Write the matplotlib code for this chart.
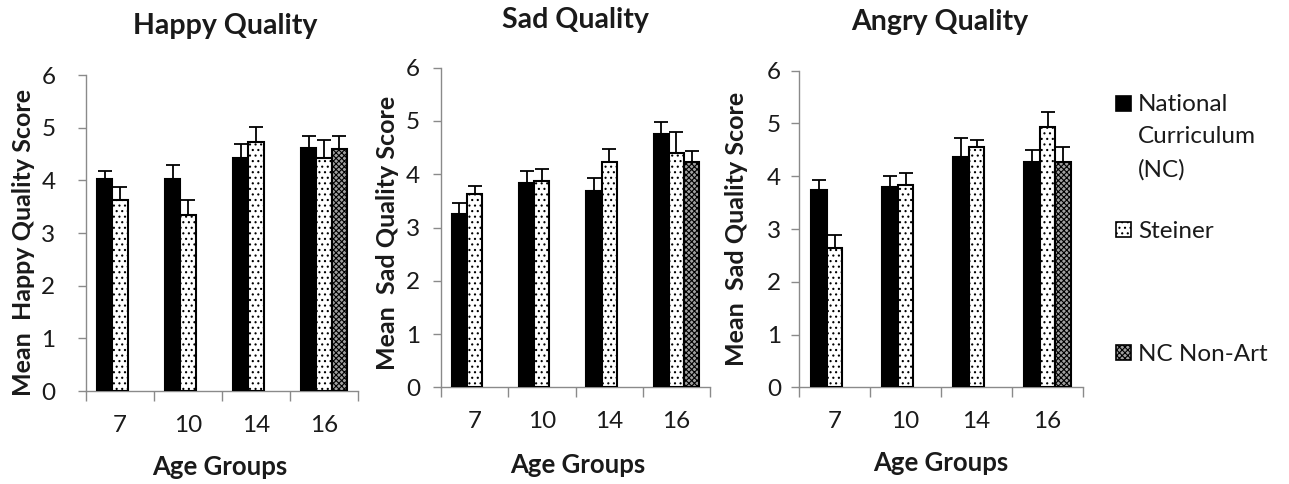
import numpy as np
import matplotlib
matplotlib.use("Agg")
import matplotlib.pyplot as plt
from matplotlib.patches import Rectangle
from matplotlib.legend_handler import HandlerPatch

plt.rcParams['font.family'] = ['Lato', 'DejaVu Sans']
plt.rcParams['hatch.linewidth'] = 0.8

# ---------------- data ----------------
age_groups = ['7', '10', '14', '16']
series_names = ['National\nCurriculum\n(NC)', 'Steiner', 'NC Non-Art']

happy_nc = [4.02, 4.02, 4.43, 4.62]
happy_nc_err = [0.15, 0.28, 0.26, 0.22]
happy_st = [3.63, 3.34, 4.72, 4.42]
happy_st_err = [0.24, 0.28, 0.29, 0.34]
happy_na = [np.nan, np.nan, np.nan, 4.59]
happy_na_err = [0, 0, 0, 0.25]

sad_nc = [3.26, 3.83, 3.68, 4.75]
sad_nc_err = [0.20, 0.23, 0.25, 0.23]
sad_st = [3.63, 3.87, 4.23, 4.39]
sad_st_err = [0.15, 0.23, 0.24, 0.41]
sad_na = [np.nan, np.nan, np.nan, 4.23]
sad_na_err = [0, 0, 0, 0.20]

angry_nc = [3.74, 3.79, 4.37, 4.27]
angry_nc_err = [0.19, 0.21, 0.36, 0.22]
angry_st = [2.64, 3.83, 4.56, 4.94]
angry_st_err = [0.25, 0.23, 0.12, 0.27]
angry_na = [np.nan, np.nan, np.nan, 4.27]
angry_na_err = [0, 0, 0, 0.29]

titles = ['Happy Quality', 'Sad Quality', 'Angry Quality']
ylabels = ['Mean  Happy Quality Score', 'Mean  Sad Quality Score', 'Mean  Sad Quality Score']
xlabel = 'Age Groups'
yticks = [0, 1, 2, 3, 4, 5, 6]

panels = [
    (happy_nc, happy_nc_err, happy_st, happy_st_err, happy_na, happy_na_err),
    (sad_nc, sad_nc_err, sad_st, sad_st_err, sad_na, sad_na_err),
    (angry_nc, angry_nc_err, angry_st, angry_st_err, angry_na, angry_na_err),
]

# ---------------- layout (pixels) ----------------
W, H = 1289, 484
fig = plt.figure(figsize=(W / 100, H / 100), dpi=100)

# left, right, top, bottom of each plotting area in pixels
boxes = [(86, 358, 75, 391), (441, 710, 67.7, 387.3), (799, 1083, 70.7, 387.3)]
title_pos = [(225, 26), (575, 20), (940, 22)]
ylabel_pos = [(24, 243), (388, 233), (736, 229)]
xlabel_pos = [(220, 467), (578, 465), (941, 463)]
ytick_pad = [16, 9, 7]

styles = [
    dict(facecolor='black', edgecolor='black', hatch=None),
    dict(facecolor='white', edgecolor='black', hatch='...'),
    dict(facecolor='#a0a0a0', edgecolor='black', hatch='xxxxxx'),
]

axis_gray = '#8a8a8a'
text_col = '#1a1a1a'
bw = 0.225
x = np.arange(len(age_groups))

for i, (panel, box) in enumerate(zip(panels, boxes)):
    l, r, t, b = box
    ax = fig.add_axes([l / W, 1 - b / H, (r - l) / W, (b - t) / H])
    vals = [panel[0], panel[2], panel[4]]
    errs = [panel[1], panel[3], panel[5]]
    for j in range(3):
        v = np.array(vals[j], dtype=float)
        e = np.array(errs[j], dtype=float)
        xs = x + (j - 1) * bw
        st = styles[j]
        ax.bar(xs, v, width=bw, facecolor=st['facecolor'], edgecolor=st['edgecolor'],
               hatch=st['hatch'], linewidth=1.5, zorder=3)
        ax.errorbar(xs, v, yerr=[np.zeros_like(e), e], fmt='none', ecolor='black',
                    elinewidth=1.3, capsize=5, capthick=1.3, zorder=2)
    ax.set_xlim(-0.5, len(age_groups) - 0.5)
    ax.set_ylim(0, 6)
    ax.set_yticks(yticks)
    ax.set_yticklabels([str(v) for v in yticks], fontsize=17.5, color=text_col)
    ax.set_xticks(x)
    ax.set_xticklabels(age_groups, fontsize=17.5, color=text_col)
    ax.set_xticks(np.arange(-0.5, len(age_groups)), minor=True)
    ax.tick_params(axis='x', which='major', length=0, pad=17)
    ax.tick_params(axis='x', which='minor', length=7, width=1, color=axis_gray, direction='out')
    ax.tick_params(axis='y', which='major', length=6, width=1, color=axis_gray,
                   direction='out', pad=ytick_pad[i])
    for s in ['top', 'right']:
        ax.spines[s].set_visible(False)
    for s in ['left', 'bottom']:
        ax.spines[s].set_color(axis_gray)
        ax.spines[s].set_linewidth(1.0)
    ax.set_facecolor('white')

    tx, ty = title_pos[i]
    fig.text(tx / W, 1 - ty / H, titles[i], fontsize=20.5, fontweight='bold',
             ha='center', va='center', color=text_col)
    lx, ly = ylabel_pos[i]
    fig.text(lx / W, 1 - ly / H, ylabels[i], fontsize=18, fontweight='bold',
             rotation=90, ha='center', va='center', color=text_col)
    xx, xy = xlabel_pos[i]
    fig.text(xx / W, 1 - xy / H, xlabel, fontsize=18.5, fontweight='bold',
             ha='center', va='center', color=text_col)

# ---------------- legend ----------------
def top_square(legend, orig_handle, xdescent, ydescent, width, height, fontsize):
    shift = fontsize * 1.4
    return Rectangle((-xdescent, -ydescent + shift), width, height)

leg_pos = [(1116, 94), (1116, 221), (1116, 344)]
for j in range(3):
    st = styles[j]
    h = Rectangle((0, 0), 1, 1, facecolor=st['facecolor'], edgecolor='black',
                  hatch=st['hatch'], linewidth=1.2)
    kw = {}
    if j == 0:
        kw['handler_map'] = {h: HandlerPatch(patch_func=top_square)}
    px, py = leg_pos[j]
    leg = fig.legend([h], [series_names[j]], loc='upper left',
                     bbox_to_anchor=(px / W, 1 - py / H), frameon=False,
                     fontsize=17.5, handlelength=0.6, handleheight=0.6,
                     handletextpad=0.3, borderpad=0, borderaxespad=0, **kw)
    for txt in leg.get_texts():
        txt.set_linespacing(1.67)
        txt.set_color(text_col)

fig.savefig('out.png', dpi=100, facecolor='white')
